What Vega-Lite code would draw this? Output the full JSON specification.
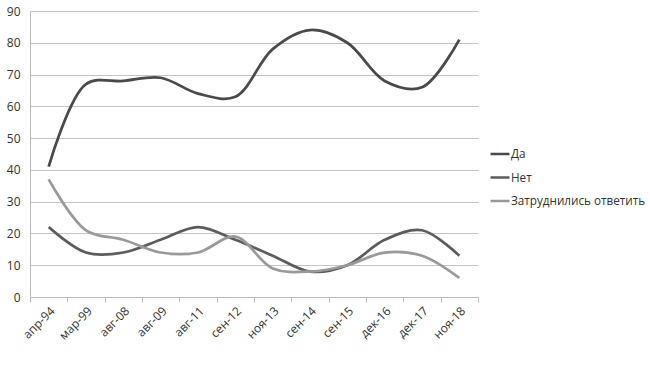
{
  "$schema": "https://vega.github.io/schema/vega-lite/v6.json",
  "width": 448,
  "height": 286,
  "autosize": "none",
  "padding": {"left": 30, "top": 11, "right": 172, "bottom": 78},
  "background": "white",
  "config": {
    "view": {"stroke": null},
    "font": "Open Sans",
    "axis": {"labelFont": "Open Sans", "labelFontSize": 12, "labelColor": "#333333"}
  },
  "data": {
    "values": [
      {"period": "апр-94", "series": "Да", "value": 41},
      {"period": "мар-99", "series": "Да", "value": 67},
      {"period": "авг-08", "series": "Да", "value": 68},
      {"period": "авг-09", "series": "Да", "value": 69},
      {"period": "авг-11", "series": "Да", "value": 64},
      {"period": "сен-12", "series": "Да", "value": 63},
      {"period": "ноя-13", "series": "Да", "value": 78},
      {"period": "сен-14", "series": "Да", "value": 84},
      {"period": "сен-15", "series": "Да", "value": 80},
      {"period": "дек-16", "series": "Да", "value": 68},
      {"period": "дек-17", "series": "Да", "value": 66},
      {"period": "ноя-18", "series": "Да", "value": 81},
      {"period": "апр-94", "series": "Нет", "value": 22},
      {"period": "мар-99", "series": "Нет", "value": 14},
      {"period": "авг-08", "series": "Нет", "value": 14},
      {"period": "авг-09", "series": "Нет", "value": 18},
      {"period": "авг-11", "series": "Нет", "value": 22},
      {"period": "сен-12", "series": "Нет", "value": 18},
      {"period": "ноя-13", "series": "Нет", "value": 13},
      {"period": "сен-14", "series": "Нет", "value": 8},
      {"period": "сен-15", "series": "Нет", "value": 10},
      {"period": "дек-16", "series": "Нет", "value": 18},
      {"period": "дек-17", "series": "Нет", "value": 21},
      {"period": "ноя-18", "series": "Нет", "value": 13},
      {"period": "апр-94", "series": "Затруднились ответить", "value": 37},
      {"period": "мар-99", "series": "Затруднились ответить", "value": 21},
      {"period": "авг-08", "series": "Затруднились ответить", "value": 18},
      {"period": "авг-09", "series": "Затруднились ответить", "value": 14},
      {"period": "авг-11", "series": "Затруднились ответить", "value": 14},
      {"period": "сен-12", "series": "Затруднились ответить", "value": 19},
      {"period": "ноя-13", "series": "Затруднились ответить", "value": 9},
      {"period": "сен-14", "series": "Затруднились ответить", "value": 8},
      {"period": "сен-15", "series": "Затруднились ответить", "value": 10},
      {"period": "дек-16", "series": "Затруднились ответить", "value": 14},
      {"period": "дек-17", "series": "Затруднились ответить", "value": 13},
      {"period": "ноя-18", "series": "Затруднились ответить", "value": 6}
    ]
  },
  "mark": {"type": "line", "interpolate": "catmull-rom", "strokeWidth": 2.75},
  "encoding": {
    "x": {
      "field": "period",
      "type": "nominal",
      "sort": null,
      "scale": {"type": "band", "paddingInner": 0, "paddingOuter": 0},
      "axis": {
        "title": null,
        "labelAngle": -45,
        "tickBand": "extent",
        "domainColor": "#bdbdbd",
        "tickColor": "#bdbdbd",
        "tickSize": 5,
        "labelPadding": 3,
        "grid": false
      }
    },
    "y": {
      "field": "value",
      "type": "quantitative",
      "scale": {"domain": [0, 90]},
      "axis": {
        "title": null,
        "values": [0, 10, 20, 30, 40, 50, 60, 70, 80, 90],
        "ticks": false,
        "domain": true,
        "domainColor": "#bdbdbd",
        "gridColor": "#c4c4c4",
        "labelPadding": 10
      }
    },
    "color": {
      "field": "series",
      "type": "nominal",
      "sort": ["Да", "Нет", "Затруднились ответить"],
      "scale": {"domain": ["Да", "Нет", "Затруднились ответить"], "range": ["#4a4a4a", "#5c5c5c", "#9a9a9a"]},
      "legend": {
        "title": null,
        "orient": "none",
        "legendX": 459,
        "legendY": 132,
        "symbolType": "stroke",
        "symbolSize": 360,
        "symbolStrokeWidth": 2.5,
        "labelFont": "Open Sans",
        "labelFontSize": 11.7,
        "labelColor": "#333333",
        "labelOffset": 0,
        "rowPadding": 5.5
      }
    }
  }
}
